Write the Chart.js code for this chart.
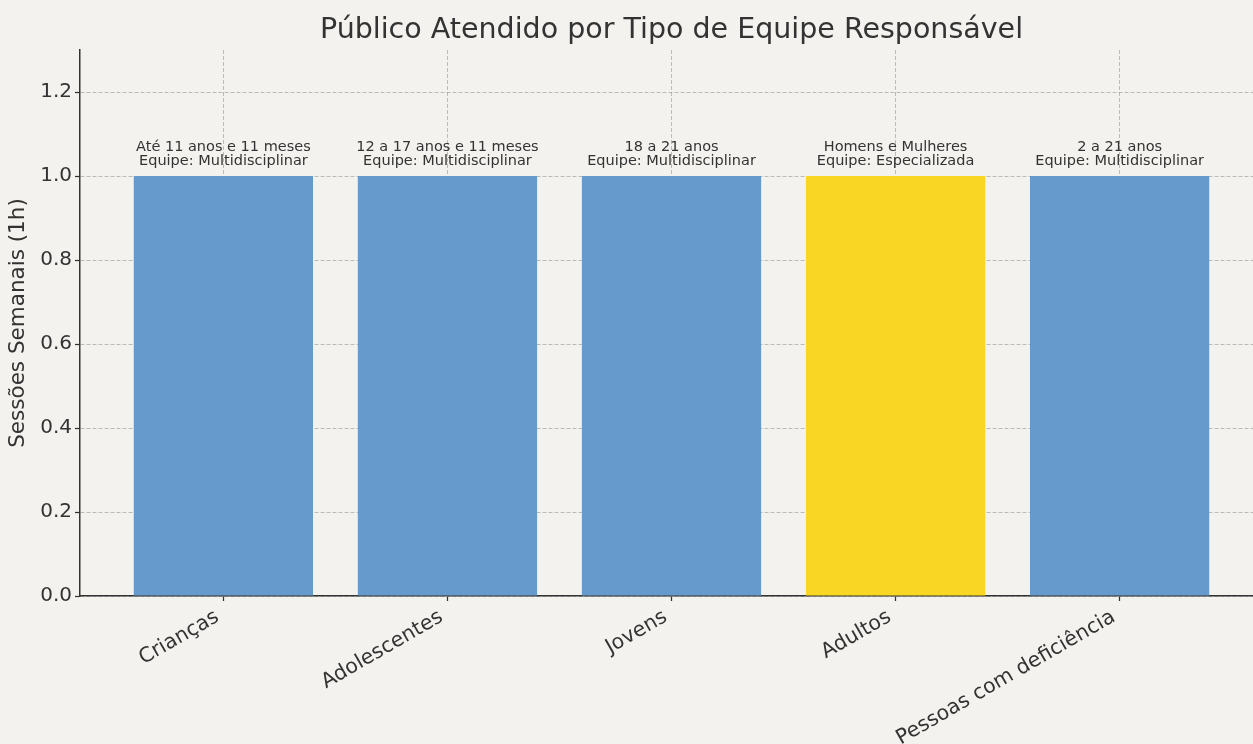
<!DOCTYPE html>
<html>
<head>
<meta charset="utf-8">
<title>Público Atendido por Tipo de Equipe Responsável</title>
<script src="https://cdn.jsdelivr.net/npm/chart.js@4/dist/chart.umd.min.js"></script>
<style>
  html, body { margin: 0; padding: 0; overflow: hidden; background: #f3f2ef; }
  #wrap { width: 1253px; height: 744px; overflow: hidden; }
</style>
</head>
<body>
<div id="wrap">
  <canvas id="chart" width="1343" height="744"></canvas>
</div>
<script>
// data
var categories = ["Crianças", "Adolescentes", "Jovens", "Adultos", "Pessoas com deficiência"];
var sessions = [1, 1, 1, 1, 1];
var ageRanges = ["Até 11 anos e 11 meses", "12 a 17 anos e 11 meses", "18 a 21 anos", "Homens e Mulheres", "2 a 21 anos"];
var teams = ["Multidisciplinar", "Multidisciplinar", "Multidisciplinar", "Especializada", "Multidisciplinar"];
var yTicks = [0, 0.2, 0.4, 0.6, 0.8, 1.0, 1.2];

var blue = "#6699cc";
var yellow = "#f9d623";
var ink = "#333333";
var gridColor = "rgba(150,150,150,0.6)";

// bars: adults are the specialised team, painted yellow
var points = categories.map(function (c, i) { return { x: i, y: sessions[i] }; });
var colors = teams.map(function (t) { return t === "Especializada" ? yellow : blue; });

// two lines of text above every bar
var barNotes = {
  id: "barNotes",
  afterDatasetsDraw: function (chart) {
    var ctx = chart.ctx;
    var meta = chart.getDatasetMeta(0);
    ctx.save();
    ctx.font = "14.5px 'DejaVu Sans'";
    ctx.fillStyle = ink;
    ctx.textAlign = "center";
    ctx.textBaseline = "alphabetic";
    meta.data.forEach(function (bar, i) {
      ctx.fillText(ageRanges[i], bar.x, bar.y - 25);
      ctx.fillText("Equipe: " + teams[i], bar.x, bar.y - 11);
    });
    ctx.restore();
  }
};

var gridOpts = {
  offset: false,
  color: gridColor,
  lineWidth: 1,
  drawTicks: true,
  tickLength: 5,
  tickColor: ink,
  tickWidth: 1.25,
  tickBorderDash: []
};

var ctx = document.getElementById("chart").getContext("2d");
new Chart(ctx, {
  type: "bar",
  data: {
    datasets: [{
      data: points,
      backgroundColor: colors,
      borderWidth: 0,
      categoryPercentage: 0.8,
      barPercentage: 1
    }]
  },
  options: {
    responsive: false,
    animation: false,
    devicePixelRatio: 1,
    layout: { padding: { left: 0, right: 80, top: 0, bottom: 0 } },
    plugins: {
      legend: { display: false },
      tooltip: { enabled: false },
      title: {
        display: true,
        fullSize: false, // center over the plot area like the original
        text: "Público Atendido por Tipo de Equipe Responsável",
        color: ink,
        font: { family: "'DejaVu Sans'", size: 28.5, weight: "normal", lineHeight: 1.2 },
        padding: { top: 13, bottom: 2.8 }
      }
    },
    scales: {
      x: {
        type: "linear",
        min: -0.64,
        max: 4.64,
        offset: false,
        z: 1,
        afterFit: function (scale) { scale.height = 148; },
        ticks: {
          stepSize: 1,
          includeBounds: false,
          autoSkip: false,
          minRotation: 30,
          maxRotation: 30,
          padding: 4,
          labelOffset: -6,
          color: ink,
          font: { family: "'DejaVu Sans'", size: 20.5 },
          callback: function (v) { return categories[v] !== undefined ? categories[v] : ""; }
        },
        grid: gridOpts,
        border: { display: true, color: ink, width: 1.5, dash: [4, 2] }
      },
      y: {
        min: 0,
        max: 1.3,
        z: 1,
        afterFit: function (scale) { scale.width = 80; },
        afterBuildTicks: function (scale) {
          scale.ticks = yTicks.map(function (v) { return { value: v }; });
        },
        ticks: {
          padding: 3,
          color: ink,
          font: { family: "'DejaVu Sans'", size: 20 },
          callback: function (v) { return Number(v).toFixed(1); }
        },
        grid: gridOpts,
        border: { display: true, color: ink, width: 1.5, dash: [4, 2] },
        title: {
          display: true,
          text: "Sessões Semanais (1h)",
          color: ink,
          font: { family: "'DejaVu Sans'", size: 21.5, lineHeight: 1.2 },
          padding: { top: 6, bottom: 0 }
        }
      }
    }
  },
  plugins: [barNotes]
});
</script>
</body>
</html>
